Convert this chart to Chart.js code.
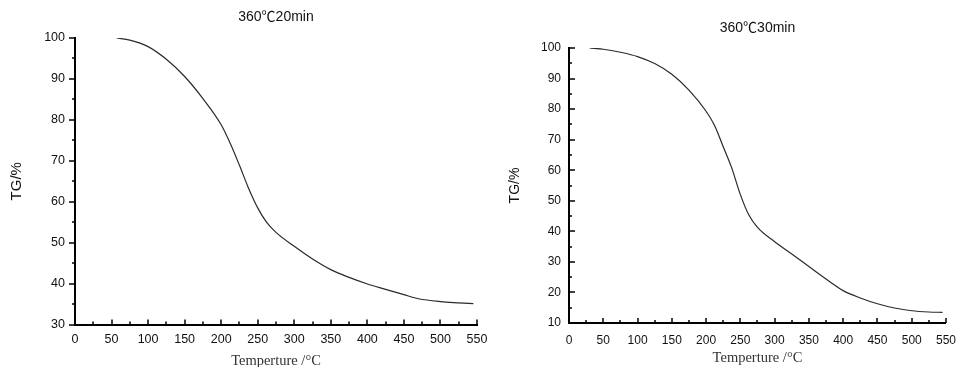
<!DOCTYPE html>
<html>
<head>
<meta charset="utf-8">
<script src="https://cdn.jsdelivr.net/npm/chart.js@4.4.1/dist/chart.umd.min.js"></script>
<style>
    html, body { margin: 0; padding: 0; background: #fff; overflow: hidden; }
    body { width: 966px; height: 367px; position: relative; }
    .panel { position: absolute; top: 0; }
</style>
</head>
<body>
<div class="panel" style="left:0"><canvas id="chart20" width="500" height="370"></canvas></div>
<div class="panel" style="left:483px"><canvas id="chart30" width="483" height="370"></canvas></div>
<script>
// tick labels
const xTicks = [0, 50, 100, 150, 200, 250, 300, 350, 400, 450, 500, 550];
const yTicks20 = [30, 40, 50, 60, 70, 80, 90, 100];
const yTicks30 = [10, 20, 30, 40, 50, 60, 70, 80, 90, 100];

// 360℃ 20min
const temp20 = [57, 75, 100, 125, 150, 175, 200, 212, 225, 237, 250, 262, 275, 300, 325, 350, 375, 400, 425, 450, 470, 500, 525, 545];
const tg20 = [100, 99.5, 97.9, 94.8, 90.6, 85.2, 78.8, 74.4, 68.9, 63.5, 58.5, 55.0, 52.5, 49.1, 46.0, 43.4, 41.5, 39.9, 38.6, 37.3, 36.3, 35.6, 35.3, 35.1];

// 360℃ 30min
const temp30 = [30, 50, 75, 100, 125, 150, 175, 200, 212, 225, 237, 250, 262, 275, 300, 325, 350, 375, 400, 425, 450, 475, 500, 525, 545];
const tg30 = [100, 99.6, 98.6, 97.2, 94.9, 91.4, 86.2, 79.3, 74.8, 67.7, 61.0, 52.0, 45.5, 41.3, 36.6, 32.6, 28.5, 24.4, 20.6, 18.2, 16.3, 14.9, 14.0, 13.6, 13.5];

const sans = "'Liberation Sans', Arial, 'Noto Sans CJK SC', sans-serif";
const serif = "'Liberation Serif', 'Times New Roman', serif";

// major / minor tick marks drawn on the axes
const tickMarks = {
    id: 'tickMarks',
    afterDraw(chart, args, opts) {
        const { ctx, chartArea } = chart;
        const x = chart.scales.x, y = chart.scales.y;
        ctx.save();
        ctx.strokeStyle = '#000';
        ctx.lineWidth = 1.5;
        ctx.beginPath();
        for (let v = x.min; v <= x.max; v += 25) {
            const px = Math.round(x.getPixelForValue(v));
            const len = v % 50 === 0 ? 5 : 3;
            ctx.moveTo(px, chartArea.bottom);
            ctx.lineTo(px, chartArea.bottom - len);
        }
        for (let v = y.min; v <= y.max; v += 5) {
            const py = Math.round(y.getPixelForValue(v));
            const len = v % 10 === 0 ? 6 : 3;
            ctx.moveTo(chartArea.left, py);
            ctx.lineTo(chartArea.left + opts.yDir * len, py);
        }
        ctx.stroke();
        ctx.restore();
    }
};

function makeChart(id, cfg) {
    const ctx = document.getElementById(id).getContext('2d');
    return new Chart(ctx, {
        type: 'line',
        data: {
            datasets: [{
                data: cfg.temps.map((t, i) => ({ x: t, y: cfg.values[i] })),
                borderColor: '#2a2a2a',
                borderWidth: 1.2,
                pointRadius: 0,
                cubicInterpolationMode: 'monotone',
                fill: false
            }]
        },
        options: {
            responsive: false,
            animation: false,
            devicePixelRatio: 1,
            layout: { padding: cfg.padding },
            plugins: {
                legend: { display: false },
                tooltip: { enabled: false },
                title: {
                    display: true,
                    text: cfg.title,
                    fullSize: false,
                    color: '#111',
                    font: { family: sans, size: 14, weight: 'normal', lineHeight: 1.2 },
                    padding: cfg.titlePadding
                },
                tickMarks: { yDir: cfg.yDir }
            },
            scales: {
                x: {
                    type: 'linear',
                    min: 0,
                    max: 550,
                    afterBuildTicks: s => { s.ticks = xTicks.map(v => ({ value: v })); },
                    afterFit: s => { s.height = cfg.xHeight; },
                    grid: { display: false, drawTicks: false },
                    border: { display: true, color: '#000', width: 2 },
                    ticks: { color: '#111', padding: cfg.xPad, font: { family: sans, size: cfg.tickSize }, maxRotation: 0 },
                    title: {
                        display: true,
                        text: 'Temperture /°C',
                        color: '#333',
                        font: { family: serif, size: 14.5 },
                        padding: { top: 0, bottom: cfg.xTitleBottom }
                    }
                },
                y: {
                    min: cfg.yTicks[0],
                    max: 100,
                    afterBuildTicks: s => { s.ticks = cfg.yTicks.map(v => ({ value: v })); },
                    afterFit: s => { s.width = cfg.yWidth; },
                    grid: { display: false, drawTicks: false },
                    border: { display: true, color: '#000', width: 2 },
                    ticks: { color: '#111', padding: cfg.yPad, font: { family: sans, size: cfg.tickSize } },
                    title: {
                        display: true,
                        text: 'TG/%',
                        color: '#111',
                        font: { family: sans, size: cfg.yTitleSize, lineHeight: 1.2 },
                        padding: { top: 4, bottom: 4 }
                    }
                }
            }
        },
        plugins: [tickMarks]
    });
}

makeChart('chart20', {
    title: '360℃20min',
    temps: temp20,
    values: tg20,
    yTicks: yTicks20,
    padding: { left: 4, right: 23, top: 0, bottom: 0 },
    titlePadding: { top: 8.6, bottom: 12.6 },
    xHeight: 45.5,
    yWidth: 71,
    xPad: 8,
    yPad: 10,
    tickSize: 12.5,
    yTitleSize: 15,
    xTitleBottom: 0,
    yDir: -1
});

makeChart('chart30', {
    title: '360℃30min',
    temps: temp30,
    values: tg30,
    yTicks: yTicks30,
    padding: { left: 20, right: 12, top: 0, bottom: 0 },
    titlePadding: { top: 19.6, bottom: 11.6 },
    xHeight: 47,
    yWidth: 66,
    xPad: 10,
    yPad: 8,
    tickSize: 12,
    yTitleSize: 14,
    xTitleBottom: 3,
    yDir: 1
});
</script>
</body>
</html>
